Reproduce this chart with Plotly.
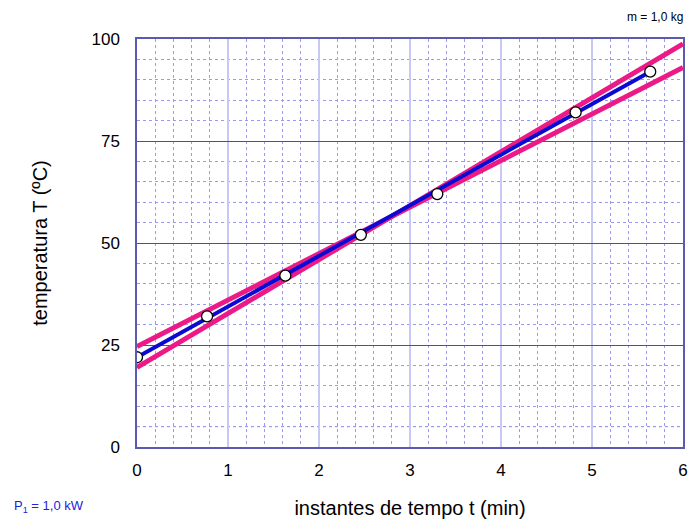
import plotly.graph_objects as go

# data
t_min = [0, 0.77, 1.63, 2.46, 3.30, 4.82, 5.64]
temp_C = [22, 32, 42, 52, 62, 82, 92]
fit_t = [0, 5.64]
fit_T = [22, 92]
steep_t = [0, 6]
steep_T = [19.5, 98.8]
shallow_t = [0, 6]
shallow_T = [24.6, 93.0]
x_ticks = [0, 1, 2, 3, 4, 5, 6]
y_ticks = [0, 25, 50, 75, 100]

FONT = "Liberation Sans, Arial, Helvetica, sans-serif"
PINK = "#ec1a86"
BLUE = "#0a0ad2"

L, R, T, B = 137, 6, 39, 73
W, H = 694, 522

fig = go.Figure()
fig.add_trace(go.Scatter(x=steep_t, y=steep_T, mode="lines",
                         line=dict(color=PINK, width=5), showlegend=False))
fig.add_trace(go.Scatter(x=shallow_t, y=shallow_T, mode="lines",
                         line=dict(color=PINK, width=5), showlegend=False))
fig.add_trace(go.Scatter(x=fit_t, y=fit_T, mode="lines",
                         line=dict(color=BLUE, width=4), showlegend=False))
fig.add_trace(go.Scatter(x=t_min, y=temp_C, mode="markers",
                         marker=dict(size=11, color="white",
                                     line=dict(color="black", width=1.3)),
                         showlegend=False))

# darker dotted line at 5 degC
fig.add_shape(type="line", xref="x", yref="y", x0=0, x1=6, y0=5, y1=5,
              line=dict(color="#3030d8", width=1, dash="dot"), layer="below")

pw = W - L - R
ph = H - T - B

fig.update_layout(
    width=W, height=H,
    margin=dict(l=L, r=R, t=T, b=B),
    paper_bgcolor="white", plot_bgcolor="white",
    font=dict(family=FONT, color="black"),
    xaxis=dict(range=[0, 6], tickvals=x_ticks, ticktext=[str(v) for v in x_ticks],
               showgrid=True, gridcolor="#c8c8f4", gridwidth=2,
               minor=dict(dtick=0.2, showgrid=True, gridcolor="#9a9aee",
                          griddash="dot", gridwidth=1),
               zeroline=False, showline=True, mirror=True,
               linecolor="#5a5ab0", linewidth=1.5, ticks="",
               tickfont=dict(size=17), ticklabelstandoff=7,
               title=dict(text="instantes de tempo t (min)", font=dict(size=20), standoff=22)),
    yaxis=dict(range=[0, 100], tickvals=y_ticks, ticktext=[str(v) for v in y_ticks],
               showgrid=True, gridcolor="#4646d6", gridwidth=1.2,
               minor=dict(dtick=5, showgrid=True, gridcolor="#9a9aee",
                          griddash="dot", gridwidth=1),
               zeroline=False, showline=True, mirror=True,
               linecolor="#5a5ab0", linewidth=1.5, ticks="",
               tickfont=dict(size=17), ticklabelstandoff=12,
               title=dict(text="temperatura T (ºC)", font=dict(size=20), standoff=38)),
    annotations=[
        dict(text="m = 1,0 kg", xref="paper", yref="paper",
             x=(690 - L) / pw, y=(449 - 17) / ph,
             xanchor="right", yanchor="middle",
             showarrow=False, font=dict(size=12, color="black")),
        dict(text="P<sub>1</sub> = 1,0 kW", xref="paper", yref="paper",
             x=(11 - L) / pw, y=(449 - 509) / ph,
             xanchor="left", yanchor="middle",
             showarrow=False, font=dict(size=13, color="#2222dd")),
    ],
)

fig.write_html("out.html")
